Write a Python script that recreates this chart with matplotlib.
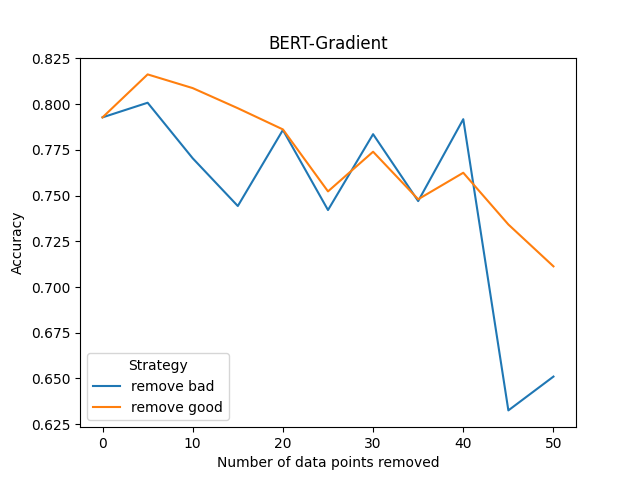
import matplotlib
matplotlib.use("Agg")
import matplotlib.pyplot as plt

x_removed = [0, 5, 10, 15, 20, 25, 30, 35, 40, 45, 50]
remove_bad = [0.7928, 0.8008, 0.7704, 0.7443, 0.7859, 0.7421, 0.7836, 0.7470, 0.7918, 0.6325, 0.6510]
remove_good = [0.7928, 0.8163, 0.8088, 0.7978, 0.7862, 0.7523, 0.7740, 0.7480, 0.7625, 0.7342, 0.7113]

fig, ax = plt.subplots(figsize=(6.4, 4.8), dpi=100)
ax.plot(x_removed, remove_bad, label="remove bad")
ax.plot(x_removed, remove_good, label="remove good")
ax.set_title("BERT-Gradient")
ax.set_xlabel("Number of data points removed")
ax.set_ylabel("Accuracy")
ax.legend(title="Strategy", loc="lower left")
fig.savefig("out.png")
